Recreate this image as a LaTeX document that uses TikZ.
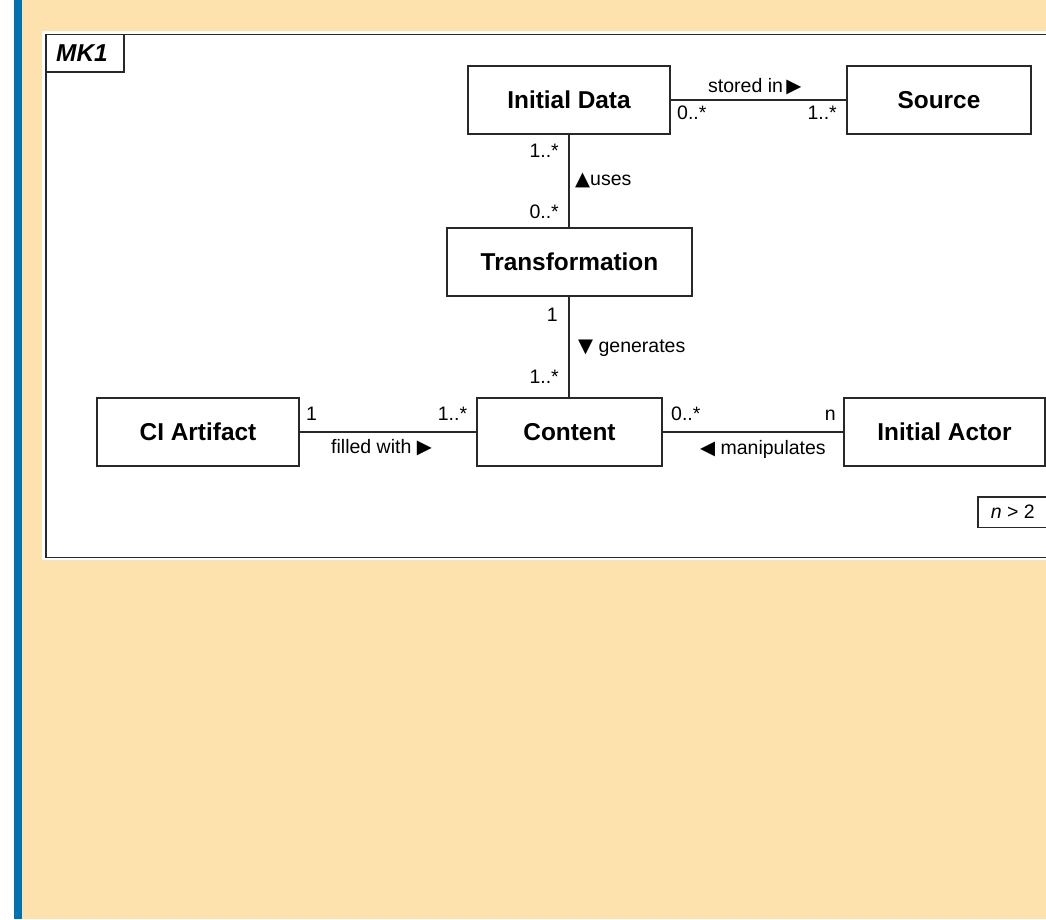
\documentclass[tikz,border=0pt]{standalone}
\usepackage{fontspec}
\setmainfont{Liberation Sans}
\newfontfamily\symfont{DejaVu Sans}
\definecolor{pagebg}{RGB}{253,226,174}
\definecolor{sidebar}{RGB}{0,114,178}
\definecolor{edgegray}{RGB}{40,40,40}
% direction triangles set in a font that has them
\newcommand\tri[1]{{\symfont\fontsize{19.5}{19.5}\selectfont #1}}

\begin{document}
\begin{tikzpicture}[x=1pt,y=-1pt,
  cls/.style={draw=edgegray, line width=1.4pt, fill=white, inner sep=0pt,
              minimum height=68, font=\fontsize{24.4}{29}\selectfont\bfseries},
  assoc/.style={draw=edgegray, line width=1.4pt},
  lbl/.style={inner sep=0pt, font=\fontsize{19.5}{23}\selectfont},
]
\useasboundingbox (0,0) rectangle (1046,919);
\clip (0,0) rectangle (1046,919);

% page background and side bar
\fill[white] (0,0) rectangle (1046,919);
\fill[sidebar] (14,0) rectangle (22,919);
\fill[pagebg] (22,0) rectangle (1046,919);

% diagram frame with its name tab
\fill[white] (42,31) rectangle (1060,559.5);
\draw[assoc] (1060,34.5) -- (46,34.5) -- (46,557.5) -- (1060,557.5);
\draw[assoc] (46,72) -- (124,72) -- (124,34.5);
\node[inner sep=0pt, anchor=base west, font=\fontsize{24.4}{29}\selectfont\bfseries\itshape]
  (framename) at (56,61.7) {MK1};

% classes
\node[cls, minimum width=202] (initdata) at (569,100)   {Initial Data};
\node[cls, minimum width=184] (source)   at (939,100)   {Source};
\node[cls, minimum width=245] (transf)   at (569.5,262) {Transformation};
\node[cls, minimum width=202] (artifact) at (198,432)   {CI Artifact};
\node[cls, minimum width=185] (content)  at (569.5,432) {Content};
\node[cls, minimum width=201] (actor)    at (944.5,432) {Initial Actor};

% associations
\draw[assoc] (initdata.east) -- (source.west);
\draw[assoc] (initdata.south) -- (initdata.south |- transf.north);
\draw[assoc] (initdata.south |- transf.south) -- (initdata.south |- content.north);
\draw[assoc] (artifact.east) -- (content.west);
\draw[assoc] (content.east) -- (actor.west);

% association names and multiplicities
\node[lbl, anchor=base west] (storedlbl) at (708,92.5)   {stored in\,\tri{▶}};
\node[lbl, anchor=base west] (m1)        at (677,119.5)  {0..*};
\node[lbl, anchor=base east] (m2)        at (837,119.5)  {1..*};
\node[lbl, anchor=base east] (m3)        at (559,157.5)  {1..*};
\node[lbl, anchor=base west] (useslbl)   at (575,185.5)  {\tri{▲}uses};
\node[lbl, anchor=base east] (m4)        at (559,218.3)  {0..*};
\node[lbl, anchor=base east] (m5)        at (558,321.7)  {1};
\node[lbl, anchor=base west] (genlbl)    at (578,352.3)  {\tri{▼} generates};
\node[lbl, anchor=base east] (m6)        at (559,383.3)  {1..*};
\node[lbl, anchor=base west] (m7)        at (306,420)    {1};
\node[lbl, anchor=base west] (filllbl)   at (331,453.3)  {filled with \tri{▶}};
\node[lbl, anchor=base east] (m8)        at (467.3,420)  {1..*};
\node[lbl, anchor=base west] (m9)        at (671,420)    {0..*};
\node[lbl, anchor=base east] (m10)       at (836,420)    {n};
\node[lbl, anchor=base west] (manlbl)    at (700,454)    {\tri{◀} manipulates};

% constraint note
\draw[assoc] (1060,497) -- (978,497) -- (978,527.3) -- (1060,527.3);
\node[lbl, anchor=base west] (constraint) at (990.7,518.3) {\textit{n} > 2};
\end{tikzpicture}
\end{document}
